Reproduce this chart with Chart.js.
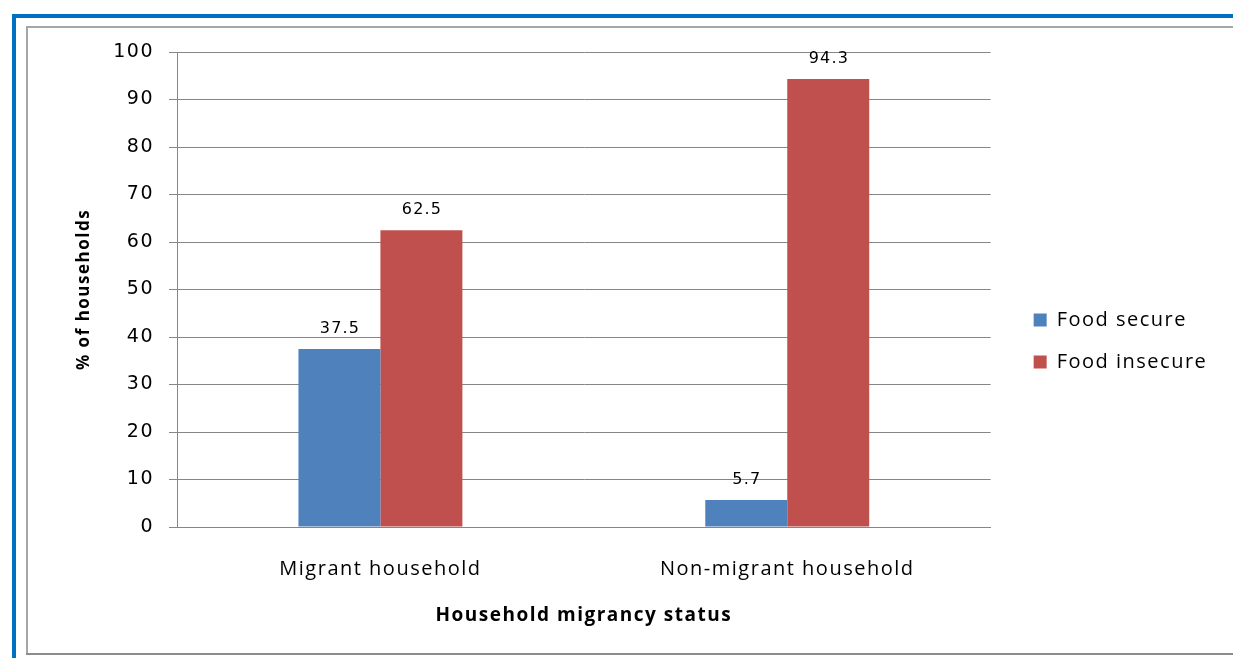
<!DOCTYPE html>
<html>
<head>
<meta charset="utf-8">
<script src="https://cdn.jsdelivr.net/npm/chart.js@4/dist/chart.umd.min.js"></script>
<style>
html,body{margin:0;padding:0;background:#fff;overflow:hidden;}
#wrap{position:absolute;left:0;top:0;width:1233px;height:658px;}
</style>
</head>
<body>
<div id="wrap"><canvas id="c" width="1233" height="658"></canvas></div>
<script>
const categories = ["Migrant household", "Non-migrant household"];
const seriesNames = ["Food secure", "Food insecure"];
const foodSecure = [37.5, 5.7];
const foodInsecure = [62.5, 94.3];
const yTicks = [0, 10, 20, 30, 40, 50, 60, 70, 80, 90, 100];
const xTitle = "Household migrancy status";
const yTitle = "% of households";

const SPACING = '1.5px';

const spacing = {
  id: 'spacing',
  beforeUpdate(chart) { chart.ctx.letterSpacing = SPACING; },
  beforeLayout(chart) { chart.ctx.letterSpacing = SPACING; },
  beforeDraw(chart) { chart.ctx.letterSpacing = SPACING; }
};

const frame = {
  id: 'frame',
  beforeDraw(chart) {
    const c = chart.ctx;
    c.save();
    c.fillStyle = '#fff';
    c.fillRect(0, 0, chart.width, chart.height);
    c.fillStyle = '#0070c0';
    c.fillRect(12, 14, chart.width - 12, 4);
    c.fillRect(12, 14, 4, chart.height - 14);
    c.fillStyle = '#a6a6a6';
    c.fillRect(26, 26, chart.width - 26, 2);
    c.fillRect(26, 26, 2, 628);
    c.fillStyle = '#8c8c8c';
    c.fillRect(26, 653, chart.width - 26, 2);
    c.restore();
  }
};

const barLabels = {
  id: 'barLabels',
  afterDatasetsDraw(chart) {
    const c = chart.ctx;
    c.save();
    c.letterSpacing = '1.2px';
    c.font = '16px "DejaVu Sans"';
    c.fillStyle = '#000';
    c.textAlign = 'center';
    c.textBaseline = 'middle';
    chart.data.datasets.forEach((ds, i) => {
      chart.getDatasetMeta(i).data.forEach((bar, j) => {
        c.fillText(String(ds.data[j]), bar.x + 0.6, bar.y - 20);
      });
    });
    c.restore();
  }
};

const chart = new Chart(document.getElementById('c'), {
  type: 'bar',
  data: {
    labels: categories,
    datasets: [
      { label: seriesNames[0], data: foodSecure, backgroundColor: '#4f81bd', borderWidth: 0 },
      { label: seriesNames[1], data: foodInsecure, backgroundColor: '#c0504d', borderWidth: 0 }
    ]
  },
  options: {
    responsive: false,
    animation: false,
    devicePixelRatio: 1,
    layout: { padding: { left: 30, top: 52, right: 25, bottom: 28 } },
    datasets: { bar: { categoryPercentage: 0.403, barPercentage: 1.0 } },
    plugins: {
      legend: {
        position: 'right',
        align: 'center',
        labels: {
          boxWidth: 13, boxHeight: 13, padding: 22,
          color: '#000',
          font: { family: '"Open Sans"', size: 20 }
        }
      },
      tooltip: { enabled: false }
    },
    scales: {
      x: {
        grid: { display: false },
        border: { display: true, color: '#868686', width: 1 },
        ticks: { color: '#000', padding: 22, font: { family: '"Open Sans"', size: 20 } },
        title: { display: true, text: xTitle, color: '#000', padding: { top: 0, bottom: 3 },
                 font: { family: '"Open Sans"', size: 19, weight: 'bold' } },
        afterFit(s) { s.height = 658 - 28 - 527; }
      },
      y: {
        min: 0, max: 100,
        afterBuildTicks(s) { s.ticks = yTicks.map(v => ({ value: v })); },
        grid: { color: '#868686', lineWidth: 1, tickLength: 8, drawTicks: true },
        border: { display: true, color: '#868686', width: 1 },
        ticks: { color: '#000', padding: 15, font: { family: '"DejaVu Sans"', size: 19 } },
        title: { display: true, text: yTitle, color: '#000', padding: { top: 44, bottom: 0 },
                 font: { family: '"Open Sans"', size: 17, weight: 'bold' } },
        afterFit(s) { s.width = 177 - 30; }
      },
      y2: {
        position: 'right',
        display: true,
        grid: { display: false },
        border: { display: false },
        ticks: { display: false },
        afterFit(s) { s.width = 21; }
      }
    }
  },
  plugins: [spacing, frame, barLabels]
});
</script>
</body>
</html>
